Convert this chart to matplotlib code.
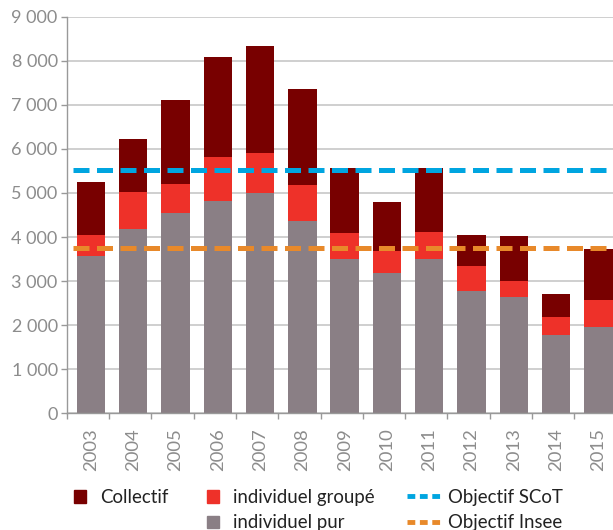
import matplotlib
matplotlib.use("Agg")
import matplotlib.pyplot as plt
from matplotlib.patches import Patch
from matplotlib.lines import Line2D
import numpy as np

plt.rcParams['font.family'] = ['Lato', 'DejaVu Sans']

years = ['2003', '2004', '2005', '2006', '2007', '2008', '2009',
         '2010', '2011', '2012', '2013', '2014', '2015']
individuel_pur = [3580, 4175, 4540, 4815, 5000, 4360, 3500,
                  3180, 3500, 2770, 2630, 1770, 1960]
individuel_groupe = [465, 855, 665, 995, 915, 815, 600,
                     505, 615, 570, 370, 405, 610]
collectif = [1210, 1190, 1900, 2285, 2415, 2190, 1475,
             1120, 1445, 705, 1020, 525, 1160]
objectif_scot = 5520
objectif_insee = 3745
yticks = [0, 1000, 2000, 3000, 4000, 5000, 6000, 7000, 8000, 9000]

c_coll = '#780000'
c_grp = '#ee3129'
c_pur = '#8a7f85'
c_scot = '#00a5e0'
c_insee = '#e8892a'
grey = '#8c8c8c'

fig = plt.figure(figsize=(6.13, 5.30), dpi=100)
ax = fig.add_axes([66.7 / 613, 116.7 / 530, 550 / 613, 396.6 / 530])

# bars sit a little right of the slot centre, as in the original
x = np.arange(len(years)) + 0.07
w = 0.67
pur = np.array(individuel_pur)
grp = np.array(individuel_groupe)
coll = np.array(collectif)
ax.bar(x, pur, w, color=c_pur, zorder=2)
ax.bar(x, grp, w, bottom=pur, color=c_grp, zorder=2)
ax.bar(x, coll, w, bottom=pur + grp, color=c_coll, zorder=2)

ax.axhline(objectif_scot, xmin=0.011, color=c_scot, lw=3.6,
           linestyle=(0, (3.2, 1.5)), zorder=3)
ax.axhline(objectif_insee, xmin=0.011, color=c_insee, lw=3.6,
           linestyle=(0, (3.2, 1.5)), zorder=3)

ax.set_xlim(-0.5, len(years) - 0.5)
ax.set_ylim(0, 9000)
ax.set_yticks(yticks)
ax.set_yticklabels([f"{v:,}".replace(",", " ") if v else "0" for v in yticks])
ax.yaxis.grid(True, color='#cccccc', lw=1.3, zorder=0)
ax.set_axisbelow(True)

ax.set_xticks(x)
ax.set_xticklabels(years, rotation=90)
ax.set_xticks(np.arange(len(years) + 1) - 0.5, minor=True)
ax.tick_params(axis='x', which='major', length=0, pad=11, labelsize=13.3,
               labelcolor=grey)
ax.tick_params(axis='x', which='minor', length=4.5, width=1, color='#999999')
ax.tick_params(axis='y', length=4.5, width=1, color='#999999', pad=2,
               labelsize=13, labelcolor=grey)

for s in ['top', 'right']:
    ax.spines[s].set_visible(False)
for s in ['left', 'bottom']:
    ax.spines[s].set_color('#999999')
    ax.spines[s].set_linewidth(1)

# legend, three columns placed by hand
blank = Patch(facecolor='none', edgecolor='none')
leg_kw = dict(frameon=False, fontsize=13.4, labelspacing=0.45,
              borderpad=0, borderaxespad=0, loc='upper left',
              bbox_transform=fig.transFigure, labelcolor='#222222')
top = 1 - 489 / 530
fig.legend([Patch(color=c_coll), blank], ['Collectif', ' '],
           bbox_to_anchor=(74 / 613, top),
           handlelength=0.65, handleheight=0.65, handletextpad=0.76, **leg_kw)
fig.legend([Patch(color=c_grp), Patch(color=c_pur)],
           ['individuel groupé', 'individuel pur'],
           bbox_to_anchor=(207 / 613, top),
           handlelength=0.65, handleheight=0.65, handletextpad=0.76, **leg_kw)
fig.legend([Line2D([], [], color=c_scot, lw=3.5, linestyle=(0, (1.6, 0.95))),
            Line2D([], [], color=c_insee, lw=3.5, linestyle=(0, (1.6, 0.95)))],
           ['Objectif SCoT', 'Objectif Insee'],
           bbox_to_anchor=(407 / 613, top),
           handlelength=1.76, handletextpad=0.45, **leg_kw)

fig.savefig('out.png', dpi=100)
